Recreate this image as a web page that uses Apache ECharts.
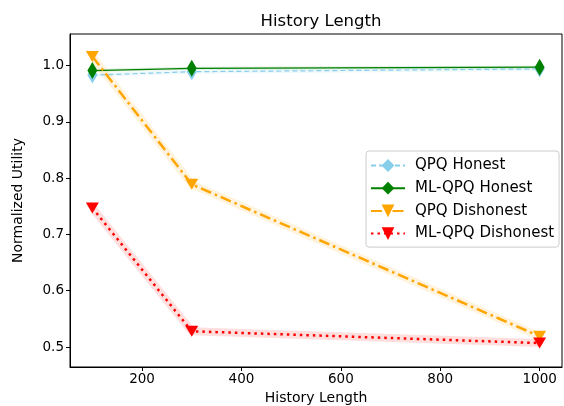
<!DOCTYPE html>
<html>
<head>
<meta charset="utf-8">
<script src="https://cdn.jsdelivr.net/npm/echarts@6/dist/echarts.min.js"></script>
<style>
  html, body { margin: 0; padding: 0; background: #fff; }
  #chart { width: 564px; height: 406px; }
</style>
</head>
<body>
<div id="chart"></div>
<script>
const historyLengths = [100, 300, 1000];
const xTicks = [200, 400, 600, 800, 1000];
const yTicks = [0.5, 0.6, 0.7, 0.8, 0.9, 1.0];

const qpqHonest = [0.983, 0.989, 0.994];
const mlQpqHonest = [0.991, 0.995, 0.997];
const qpqDishonest = [1.016, 0.789, 0.519];
const mlQpqDishonest = [0.747, 0.528, 0.507];

const font = "DejaVu Sans";

function pairs(values) {
  return historyLengths.map((x, i) => [x, values[i]]);
}

// faint band drawn under each line
function band(name, values, color, width) {
  return {
    name: name + " band",
    type: "line",
    data: pairs(values),
    symbol: "none",
    silent: true,
    z: 1,
    lineStyle: { color: color, width: width, opacity: 0.13 },
  };
}

const chart = echarts.init(document.getElementById("chart"));

chart.setOption({
  animation: false,
  title: {
    text: "History Length",
    left: 316,
    textAlign: "center",
    top: 8,
    textStyle: { fontFamily: font, fontSize: 16.5, fontWeight: "normal", color: "#000" },
  },
  grid: {
    left: 70, right: 2, top: 34, bottom: 39,
    outerBoundsMode: "none",
    containLabel: false,
    show: true, borderColor: "#000", borderWidth: 1,
  },
  legend: {
    data: ["QPQ Honest", "ML-QPQ Honest", "QPQ Dishonest", "ML-QPQ Dishonest"],
    orient: "vertical",
    left: 366, top: 151,
    padding: [7, 5, 6, 4],
    itemGap: 7.7,
    itemWidth: 34, itemHeight: 16,
    borderColor: "#ccc", borderWidth: 1, borderRadius: 3,
    backgroundColor: "rgba(255,255,255,0.8)",
    textStyle: { fontFamily: font, fontSize: 15, color: "#000", padding: [0, 0, 0, 5] },
  },
  xAxis: {
    type: "value",
    min: 55, max: 1045,
    name: "History Length",
    nameLocation: "middle",
    nameGap: 24,
    nameTextStyle: { fontFamily: font, fontSize: 14, color: "#000" },
    axisLine: { show: true, lineStyle: { color: "#000" } },
    axisTick: { show: true, length: 4, customValues: xTicks, lineStyle: { color: "#000" } },
    axisLabel: {
      customValues: xTicks, fontFamily: font, fontSize: 13.5, color: "#000", margin: 5,
      formatter: (v) => String(v),
    },
    splitLine: { show: false },
  },
  yAxis: {
    type: "value",
    min: 0.4645, max: 1.056,
    name: "Normalized Utility",
    nameLocation: "middle",
    nameGap: 45,
    nameTextStyle: { fontFamily: font, fontSize: 14, color: "#000" },
    axisLine: { show: true, lineStyle: { color: "#000" } },
    axisTick: { show: true, length: 4, customValues: yTicks, lineStyle: { color: "#000" } },
    axisLabel: {
      customValues: yTicks, fontFamily: font, fontSize: 13.5, color: "#000", margin: 6,
      formatter: (v) => v.toFixed(1),
    },
    splitLine: { show: false },
  },
  series: [
    band("QPQ Honest", qpqHonest, "#87ceeb", 4),
    band("ML-QPQ Honest", mlQpqHonest, "#008000", 3),
    band("QPQ Dishonest", qpqDishonest, "#ffa500", 8),
    band("ML-QPQ Dishonest", mlQpqDishonest, "#ff0000", 8),
    {
      name: "QPQ Honest",
      type: "line",
      data: pairs(qpqHonest),
      symbol: "diamond",
      symbolSize: [10, 17],
      z: 3,
      itemStyle: { color: "#87ceeb" },
      lineStyle: { color: "#87ceeb", width: 1.2, type: [5, 3] },
    },
    {
      name: "ML-QPQ Honest",
      type: "line",
      data: pairs(mlQpqHonest),
      symbol: "diamond",
      symbolSize: [10, 17],
      z: 4,
      itemStyle: { color: "#008000" },
      lineStyle: { color: "#008000", width: 1.3 },
    },
    {
      name: "QPQ Dishonest",
      type: "line",
      data: pairs(qpqDishonest),
      symbol: "triangle",
      symbolRotate: 180,
      symbolSize: [13, 11],
      z: 5,
      itemStyle: { color: "#ffa500" },
      lineStyle: { color: "#ffa500", width: 2.5, type: [11, 4, 2.5, 4] },
    },
    {
      name: "ML-QPQ Dishonest",
      type: "line",
      data: pairs(mlQpqDishonest),
      symbol: "triangle",
      symbolRotate: 180,
      symbolSize: [13, 11],
      z: 6,
      itemStyle: { color: "#ff0000" },
      lineStyle: { color: "#ff0000", width: 2.5, type: [2.5, 4] },
    },
  ],
});
</script>
</body>
</html>
